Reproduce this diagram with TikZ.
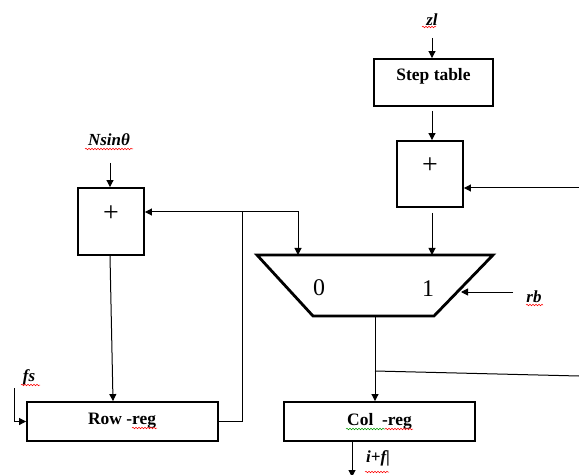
\documentclass[tikz,border=0pt]{standalone}
\usepackage{fontspec}
\setmainfont{Liberation Serif}
\usetikzlibrary{arrows.meta,decorations.pathmorphing}
\tikzset{
 wire/.style={line width=1bp, draw=black},
 arr/.style={wire,-{Triangle[length=7bp,width=7bp]}},
 box/.style={draw, line width=1.9bp, inner sep=0pt, anchor=center},
 lbl/.style={font=\fontsize{17}{17}\selectfont\bfseries\itshape, inner sep=0pt},
 btxt/.style={font=\fontsize{17.5}{18}\selectfont\bfseries, inner sep=0pt},
 plustxt/.style={font=\fontsize{28}{28}\selectfont, inner sep=0pt},
 digit/.style={font=\fontsize{24}{24}\selectfont, inner sep=0pt},
 wavyr/.style={draw=red, line width=0.5bp, decorate, decoration={snake,amplitude=0.8bp,segment length=3bp}},
 wavyg/.style={wavyr, draw=green!60!black},
}
\begin{document}
\begin{tikzpicture}[x=1bp,y=-1bp]
\useasboundingbox (0,0) rectangle (579,475);
% top chain
\node[lbl] (zl) at (432,20) {zl};
\coordinate (zlin) at (432,38);
\node[box, minimum width=119bp, minimum height=47bp] (step) at (433.5,82.5) {};
\node[btxt] (steptxt) at (433.5,76) {Step table};
\node[box, minimum width=66bp, minimum height=66bp] (add2) at (430,174) {};
\node[plustxt] (plus2) at (430,166) {+};
\node[box, minimum width=66bp, minimum height=67bp] (add1) at (111,221.5) {};
\node[plustxt] (plus1) at (111,214) {+};
\node[lbl] (nsin) at (109,140) {Nsinθ};
\coordinate (nin) at (110,163);
% registers
\node[box, minimum width=191bp, minimum height=39bp] (row) at (122.5,421.5) {};
\node[btxt] (rowtxt) at (122,421) {Row -reg};
\node[box, minimum width=191bp, minimum height=39bp] (col) at (379.5,421.5) {};
\node[btxt] (coltxt) at (379.5,421) {Col\ \ -reg};
% mux
\coordinate (mtl) at (257,255);
\coordinate (mtr) at (493,255);
\coordinate (mbr) at (434,316);
\coordinate (mbl) at (313,316);
\draw[line width=2.8bp, line join=miter] (mtl) -- (mtr) -- (mbr) -- (mbl) -- cycle;
\node[digit] (d0) at (319,288) {0};
\node[digit] (d1) at (428,289) {1};
% labels
\node[lbl] (rb) at (534,297) {rb};
\node[lbl] (fs) at (29,377) {fs};
\node[lbl] (out) at (378,458) {i+f\upshape|};
% connectors
\draw[arr] (zlin) -- (zlin |- step.north);
\draw[arr, shorten <=4bp] (zlin |- step.south) -- (zlin |- add2.north);
\draw[arr, shorten <=5bp] (zlin |- add2.south) -- (zlin |- mtl);
\coordinate (rin) at (579,188);
\draw[arr] (rin) -- (rin -| add2.east);
\draw[arr] (nin) -- (nin |- add1.north);
\draw[arr] (nin |- add1.south) -- ([xshift=-9.5bp]row.north);
\coordinate (jr) at (242,212);
\coordinate (jm) at (298,212);
\draw[arr] (row.east) -| (jr) -- (jr -| add1.east);
\draw[arr] (jr) -- (jm) -- (jm |- mtl);
\coordinate (rbin) at (513,292);
\coordinate (rbend) at (461,292);
\draw[arr] (rbin) -- (rbend);
\coordinate (fsin) at (14,388);
\draw[arr] (fsin) |- (row.west);
\coordinate (mo) at (375,316);
\draw[arr] (mo) -- (mo |- col.north);
\coordinate (tap) at (375,371);
\coordinate (tapend) at (579,376);
\draw[wire] (tap) -- (tapend);
\coordinate (oo) at (352,477);
\draw[arr] (oo |- col.south) -- (oo);
% spell-check underlines
\draw[wavyr] (85,149) -- (133,149);
\draw[wavyr] (422,27) -- (436,27);
\draw[wavyr] (21,385) -- (40,385);
\draw[wavyr] (526,305) -- (543,305);
\draw[wavyr] (132,428) -- (157,428);
\draw[wavyg] (346,429) -- (385,429);
\draw[wavyr] (385,429) -- (413,429);
\draw[wavyr] (365,472) -- (389,472);
\end{tikzpicture}
\end{document}
